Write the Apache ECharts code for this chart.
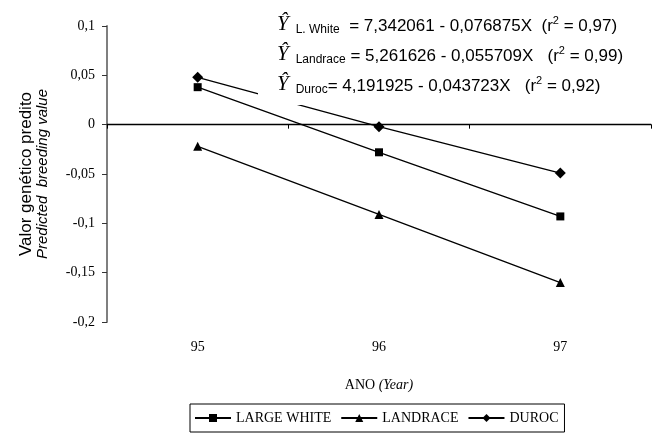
<!DOCTYPE html>
<html>
<head>
<meta charset="utf-8">
<script src="https://cdn.jsdelivr.net/npm/echarts@6/dist/echarts.min.js"></script>
<style>
  html, body { margin: 0; padding: 0; background: #fff; }
  #chart { width: 652px; height: 435px; }
</style>
</head>
<body>
<div id="chart"></div>
<script>
// dados
const years = ['95', '96', '97']
const seriesNames = ['LARGE WHITE', 'LANDRACE', 'DUROC']
const largeWhite = [0.038, -0.028, -0.093]
const landrace = [-0.022, -0.091, -0.160]
const duroc = [0.048, -0.002, -0.049]

const yMin = -0.2
const yMax = 0.1
const yStep = 0.05

// equações de regressão
const eqSubs = ['L. White', 'Landrace', 'Duroc']
const eqIntercepts = ['7,342061', '5,261626', '4,191925']
const eqSlopes = ['0,076875', '0,055709', '0,043723']
const eqR2 = ['0,97', '0,99', '0,92']
const eqGapA = ['  ', ' ', '']
const eqGapB = ['  ', '   ', '   ']

const serif = 'Liberation Serif'
const sans = 'Liberation Sans'

const chart = echarts.init(document.getElementById('chart'), null, { renderer: 'canvas' })

function eqText(i) {
  return '{y|Ŷ}{s|' + eqSubs[i] + '}{t|' + eqGapA[i] + '= ' + eqIntercepts[i] + ' - ' +
    eqSlopes[i] + 'X' + eqGapB[i] + '(r}{p|2}{t| = ' + eqR2[i] + ')}'
}

const eqRich = {
  y: { fontFamily: serif, fontStyle: 'italic', fontSize: 21, fill: '#000', padding: [0, 0, 3, 0] },
  s: { fontFamily: sans, fontSize: 12, fill: '#000', padding: [8, 0, 0, 7] },
  t: { fontFamily: sans, fontSize: 17, fill: '#000' },
  p: { fontFamily: sans, fontSize: 11, fill: '#000', padding: [0, 0, 10, 0] }
}

const markers = ['rect', 'triangle', 'diamond']
const markerSizes = [8, 9, 11]
const values = [largeWhite, landrace, duroc]

chart.setOption({
  animation: false,
  backgroundColor: '#fff',
  grid: {
    left: 107,
    right: 1,
    top: 26,
    bottom: 113,
    containLabel: false,
    outerBoundsMode: 'none'
  },
  legend: {
    left: 190,
    top: 404,
    orient: 'horizontal',
    padding: [7, 6, 7, 4],
    itemGap: 9,
    itemWidth: 36,
    itemHeight: 10,
    borderColor: '#000',
    borderWidth: 1,
    borderRadius: 0,
    selectedMode: false,
    textStyle: { fontFamily: serif, fontSize: 14, color: '#000' },
    data: seriesNames
  },
  xAxis: [{
    // linha do eixo em y = 0
    type: 'category',
    position: 'top',
    data: years,
    boundaryGap: true,
    axisLine: { onZero: true, lineStyle: { color: '#000', width: 1.3 } },
    axisTick: { show: true, inside: true, length: 4, lineStyle: { color: '#000' } },
    axisLabel: { show: false },
    splitLine: { show: false }
  }, {
    // rótulos na parte de baixo
    type: 'category',
    position: 'bottom',
    data: years,
    boundaryGap: true,
    axisLine: { show: false, onZero: false },
    axisTick: { show: false },
    axisLabel: { margin: 18, fontFamily: serif, fontSize: 14, color: '#000' },
    splitLine: { show: false },
    name: '{n|ANO}{i| (Year)}',
    nameLocation: 'middle',
    nameGap: 56,
    nameTextStyle: {
      rich: {
        n: { fontFamily: serif, fontSize: 14, color: '#000' },
        i: { fontFamily: serif, fontSize: 14, fontStyle: 'italic', color: '#000' }
      }
    }
  }],
  yAxis: {
    type: 'value',
    min: yMin,
    max: yMax,
    interval: yStep,
    axisLine: { show: true, onZero: false, lineStyle: { color: '#7f7f7f', width: 2 } },
    axisTick: { show: true, length: 5, lineStyle: { color: '#333', width: 1 } },
    axisLabel: {
      margin: 12,
      fontFamily: serif,
      fontSize: 14,
      color: '#000',
      formatter(v) {
        return String(Math.round(v * 100) / 100).replace('.', ',')
      }
    },
    splitLine: { show: false },
    name: '{a|Valor genético predito}\n{b|Predicted  breeding value}',
    nameLocation: 'middle',
    nameGap: 57,
    nameTextStyle: {
      rich: {
        a: { fontFamily: sans, fontSize: 17, lineHeight: 18, color: '#000' },
        b: { fontFamily: sans, fontSize: 15, fontStyle: 'italic', lineHeight: 15, color: '#000' }
      }
    }
  },
  graphic: [{
    // fundo branco da caixa das equações (interrompe a linha do Duroc)
    type: 'rect',
    z: 100,
    shape: { x: 258, y: 0, width: 394, height: 105 },
    style: { fill: '#fff' }
  }].concat(eqSubs.map((s, i) => ({
    type: 'text',
    z: 101,
    x: 277,
    y: 26 + i * 30,
    style: {
      text: eqText(i),
      rich: eqRich,
      verticalAlign: 'middle',
      align: 'left'
    }
  }))),
  series: seriesNames.map((name, i) => ({
    name,
    type: 'line',
    xAxisIndex: 0,
    data: values[i],
    symbol: markers[i],
    symbolSize: markerSizes[i],
    showAllSymbol: true,
    lineStyle: { color: '#000', width: 1.3 },
    itemStyle: { color: '#000' },
    emphasis: { disabled: true }
  }))
})
</script>
</body>
</html>
